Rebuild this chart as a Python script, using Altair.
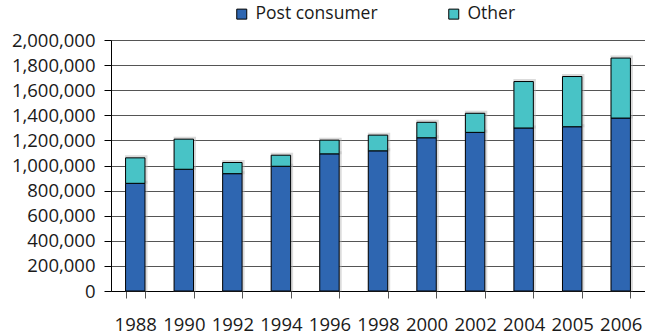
import altair as alt
import pandas as pd

# Annual tonnage by source
years = ["1988", "1990", "1992", "1994", "1996", "1998", "2000", "2002", "2004", "2005", "2006"]
post_consumer = [858000, 970000, 935000, 994000, 1093000, 1117000, 1221000, 1264000, 1299000, 1309000, 1378000]
other = [203000, 240000, 89000, 88000, 109000, 125000, 123000, 152000, 370000, 400000, 478000]

series = ["Post consumer", "Other"]
colors = ["#2E66B1", "#48C3C6"]

rows = []
for i, y in enumerate(years):
    rows.append({"year": y, "source": "Post consumer", "value": post_consumer[i], "order": 0})
    rows.append({"year": y, "source": "Other", "value": other[i], "order": 1})
df = pd.DataFrame(rows)

FONT = "Open Sans"
AXIS_FS = 18.5
LEGEND_FS = 17.5

x_enc = alt.X(
    "year:N",
    sort=years,
    title=None,
    scale=alt.Scale(paddingInner=0.6, paddingOuter=0.3),
    axis=alt.Axis(
        labelAngle=0,
        tickBand="extent",
        tickSize=7,
        tickColor="#555555",
        domainColor="#000000",
        labelPadding=17,
        labelFont=FONT,
        labelFontSize=AXIS_FS,
        labelColor="#1a1a1a",
        grid=False,
    ),
)
y_enc = alt.Y(
    "value:Q",
    stack="zero",
    title=None,
    scale=alt.Scale(domain=[0, 2000000], nice=False),
    axis=alt.Axis(
        values=list(range(0, 2000001, 200000)),
        format=",d",
        tickSize=7,
        tickColor="#000000",
        domainColor="#000000",
        gridColor="#555555",
        gridWidth=1,
        labelPadding=9,
        labelFont=FONT,
        labelFontSize=AXIS_FS,
        labelColor="#1a1a1a",
    ),
)

# soft shadow behind each stacked bar
shadow = alt.Chart(df).mark_bar(
    color="#9a9a9a", stroke="#b0b0b0", strokeWidth=3, opacity=0.45, xOffset=1, yOffset=-1
).encode(
    x=x_enc,
    y=y_enc,
    order=alt.Order("order:Q"),
)

bars = alt.Chart(df).mark_bar(stroke="#000000", strokeWidth=1).encode(
    x=x_enc,
    y=y_enc,
    color=alt.Color(
        "source:N",
        sort=series,
        scale=alt.Scale(domain=series, range=colors),
        legend=alt.Legend(
            title=None,
            orient="none",
            legendX=122,
            legendY=-35,
            direction="horizontal",
            columns=2,
            columnPadding=67,
            symbolType="square",
            symbolSize=100,
            symbolStrokeColor="#000000",
            symbolStrokeWidth=1,
            symbolOpacity=1,
            labelOffset=5,
            labelFont=FONT,
            labelFontSize=LEGEND_FS,
            labelColor="#1a1a1a",
        ),
    ),
    order=alt.Order("order:Q"),
)

chart = (
    alt.layer(shadow, bars)
    .properties(
        width=534,
        height=251,
        autosize=alt.AutoSizeParams(type="none"),
        padding={"left": 111, "top": 40, "right": 0, "bottom": 45},
        background="#ffffff",
    )
    .configure_view(stroke=None)
)

chart.save("out.html", embed_options={"renderer": "svg", "actions": False})
